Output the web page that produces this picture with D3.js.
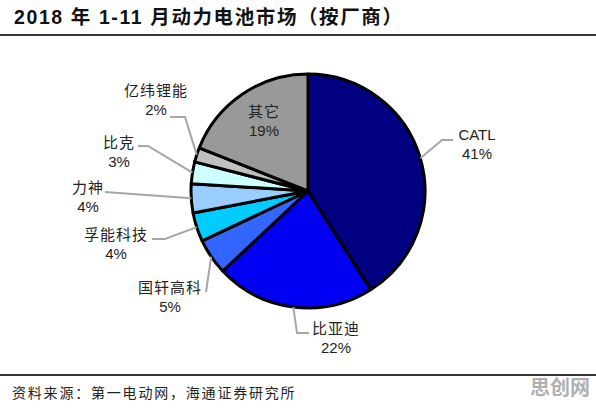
<!DOCTYPE html>
<html><head><meta charset="utf-8">
<script src="https://cdnjs.cloudflare.com/ajax/libs/d3/7.8.5/d3.min.js"></script>
<style>
html,body{margin:0;padding:0;background:#fff;}
svg{display:block;}
</style></head>
<body>
<script>
// ---- data ----
const categories = ["CATL","比亚迪","国轩高科","孚能科技","力神","比克","亿纬锂能","其它"];
const shares = [41, 22, 5, 4, 4, 3, 2, 19];
const percentLabels = ["41%","22%","5%","4%","4%","3%","2%","19%"];
const sliceColors = ["#000080","#0000F5","#3366FF","#00CCFF","#99CCFF","#CCFFFF","#C0C0C0","#999999"];
const titleText = "2018 年 1-11 月动力电池市场（按厂商）";
const sourceText = "资料来源：第一电动网，海通证券研究所";
const watermarkText = "思创网";

// label layout (text center + leader elbow/end), null leader = inside label
const labelLayout = [
  {tx:477, ty:135, pts:[[442,140],[453,140]]},
  {tx:336, ty:329, pts:[[297,333],[309,333]]},
  {tx:170, ty:288, pts:[[206,292]]},
  {tx:116, ty:235, pts:[[165,239],[152,239]]},
  {tx:88,  ty:188, pts:[[105,192]]},
  {tx:119, ty:143, pts:[[148,146],[138,146]]},
  {tx:156, ty:91,  pts:[[185,117],[170,117]]},
  {tx:264, ty:112, pts:null}
];

const W = 596, H = 409;
const svg = d3.select("body").append("svg").attr("width", W).attr("height", H);

// title
svg.append("text").attr("x", 14).attr("y", 24)
  .attr("font-family", "'Liberation Sans','Noto Sans CJK SC',sans-serif")
  .attr("font-weight", "bold").attr("font-size", 19.5).attr("letter-spacing", 1.6)
  .attr("fill", "#111").text(titleText);
svg.append("line").attr("x1", 0).attr("x2", W).attr("y1", 35).attr("y2", 35)
  .attr("stroke", "#333").attr("stroke-width", 2);
svg.append("line").attr("x1", 0).attr("x2", W).attr("y1", 375).attr("y2", 375)
  .attr("stroke", "#333").attr("stroke-width", 2);
svg.append("text").attr("x", 12).attr("y", 398)
  .attr("font-family", "'Noto Sans CJK SC',sans-serif").attr("font-size", 14)
  .attr("letter-spacing", 1.8).attr("fill", "#222").text(sourceText);
svg.append("text").attr("x", 590).attr("y", 395).attr("text-anchor", "end")
  .attr("font-family", "'Noto Sans CJK SC',sans-serif").attr("font-weight", "bold")
  .attr("font-size", 20).attr("fill", "#b0b0b0").text(watermarkText);

// pie
const cx = 308, cy = 191, r = 117;
const pie = d3.pie().sort(null).value(d => d)(shares);
const arc = d3.arc().innerRadius(0).outerRadius(r);
const g = svg.append("g").attr("transform", `translate(${cx},${cy})`);
g.selectAll("path").data(pie).join("path")
  .attr("d", arc)
  .attr("fill", (d, i) => sliceColors[i])
  .attr("stroke", "#000").attr("stroke-width", 3).attr("stroke-linejoin", "round");

// leaders
pie.forEach((d, i) => {
  const L = labelLayout[i];
  if (L.pts) {
    const a = (d.startAngle + d.endAngle) / 2;
    const start = [cx + r * Math.sin(a), cy - r * Math.cos(a)];
    svg.append("path")
      .attr("d", d3.line()([start, ...L.pts]))
      .attr("fill", "none").attr("stroke", "#a6a6a6").attr("stroke-width", 2);
  }
});

// labels
categories.forEach((c, i) => {
  const L = labelLayout[i];
  const isLatin = /^[A-Za-z]+$/.test(c);
  svg.append("text").attr("x", L.tx).attr("y", L.ty).attr("dy", "0.36em")
    .attr("text-anchor", "middle")
    .attr("font-family", isLatin ? "'Liberation Sans',Arial,sans-serif" : "'Noto Sans CJK SC',sans-serif")
    .attr("font-size", 15).attr("letter-spacing", isLatin ? 0 : 1)
    .attr("fill", "#222").text(c);
  svg.append("text").attr("x", L.tx).attr("y", L.ty + 19).attr("dy", "0.36em")
    .attr("text-anchor", "middle")
    .attr("font-family", "'Liberation Sans',Arial,sans-serif")
    .attr("font-size", 15).attr("fill", "#222").text(percentLabels[i]);
});
</script>
</body></html>
